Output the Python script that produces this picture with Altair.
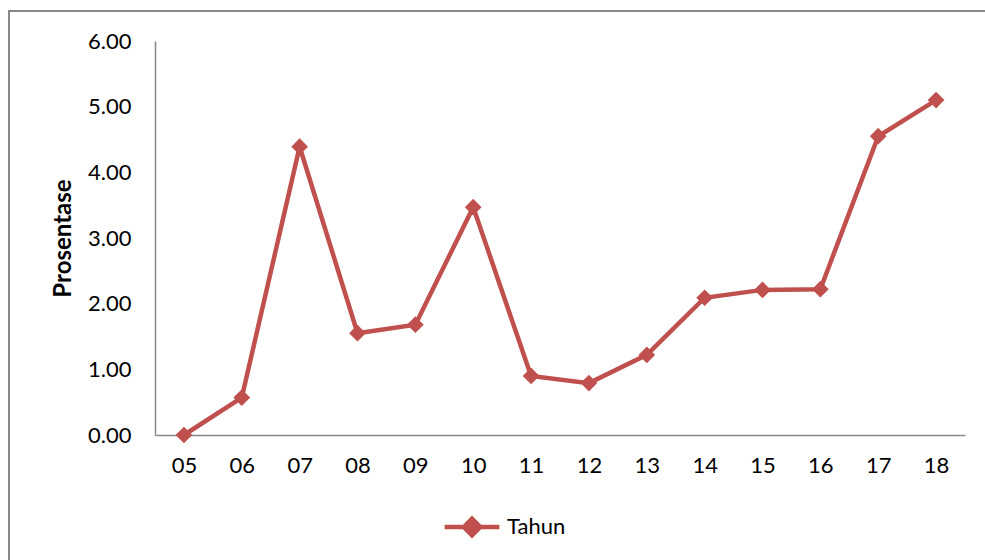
import altair as alt
import pandas as pd

years = ["05", "06", "07", "08", "09", "10", "11", "12", "13", "14", "15", "16", "17", "18"]
values = [0.00, 0.57, 4.39, 1.55, 1.68, 3.47, 0.90, 0.79, 1.22, 2.09, 2.21, 2.22, 4.55, 5.10]
series = ["Tahun"] * len(years)

df = pd.DataFrame({"tahun": years, "prosentase": values, "series": series})

RED = "#C0504D"
FONT = "Lato"

color = alt.Color(
    "series:N",
    scale=alt.Scale(range=[RED]),
    legend=alt.Legend(
        title=None,
        orient="none",
        legendX=287,
        legendY=456,
        symbolType="M-1,0L1,0M-0.3,0L0,-0.3L0.3,0L0,0.3Z",
        symbolSize=3000,
        symbolStrokeWidth=4.5,
        symbolFillColor=RED,
        symbolStrokeColor=RED,
        symbolOpacity=1,
        labelFont=FONT,
        labelFontSize=22,
        labelColor="#000000",
        labelOffset=5,
    ),
)

x = alt.X(
    "tahun:N",
    sort=years,
    scale=alt.Scale(paddingInner=0, paddingOuter=0),
    axis=alt.Axis(
        title=None, labelAngle=0, ticks=False, labelPadding=20,
        domainColor="#888888", domainWidth=1.5,
        labelFont=FONT, labelFontSize=22, labelColor="#000000", grid=False,
    ),
)
y = alt.Y(
    "prosentase:Q",
    scale=alt.Scale(domain=[0, 6], nice=False),
    axis=alt.Axis(
        title="Prosentase", values=[0, 1, 2, 3, 4, 5, 6], format=".2f",
        ticks=False, labelPadding=24, grid=False,
        domainColor="#888888", domainWidth=1.5,
        labelFont=FONT, labelFontSize=22, labelColor="#000000",
        titleFont=FONT, titleFontSize=24, titleFontWeight="bold",
        titleColor="#000000", titlePadding=12,
    ),
)

line = alt.Chart(df).mark_line(strokeWidth=4.5, color=RED).encode(x=x, y=y, color=color)
pts = alt.Chart(df).mark_point(shape="diamond", filled=True, size=280, opacity=1, color=RED).encode(
    x=x, y=y, color=alt.Color("series:N", scale=alt.Scale(range=[RED]), legend=None)
)
frame = alt.Chart(df).mark_rect(fill=None, stroke="#888888", strokeWidth=1.5).encode(
    x=alt.value(-146), x2=alt.value(900), y=alt.value(-30), y2=alt.value(600)
)

chart = alt.layer(frame, line, pts).properties(
    width=810, height=394,
    autosize=alt.AutoSizeParams(type="none"),
    padding={"left": 155, "top": 41, "right": 20, "bottom": 125},
    background="#ffffff",
).configure_view(stroke=None)

chart.save("out.html", embed_options={"renderer": "svg", "actions": False})
